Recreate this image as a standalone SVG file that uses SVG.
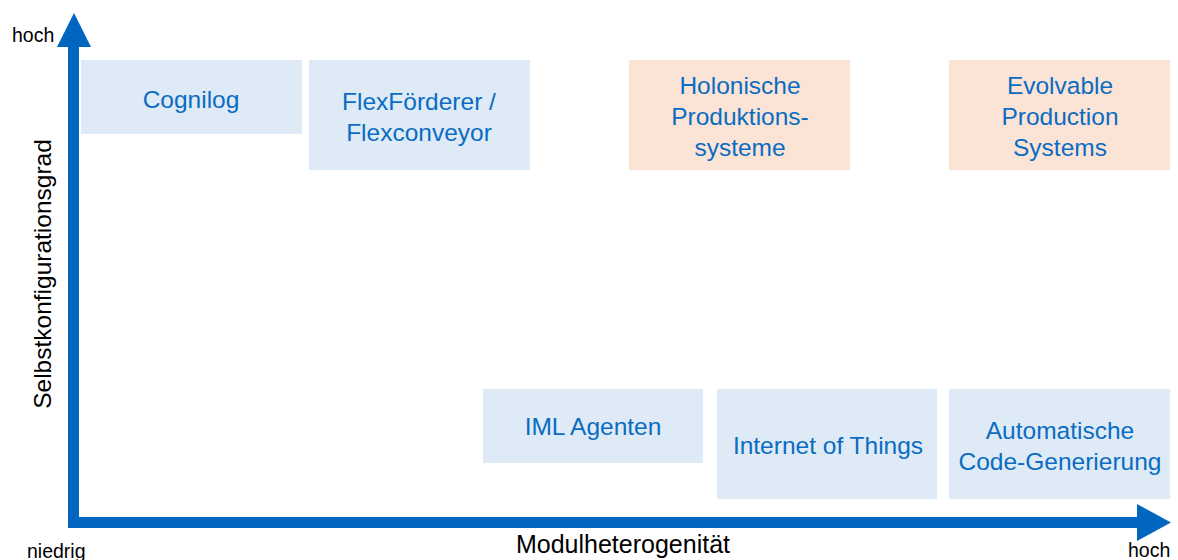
<svg xmlns="http://www.w3.org/2000/svg" width="1178" height="560" viewBox="0 0 1178 560">
<style>
.b{fill:#DEEAF6}
.p{fill:#FBE4D5}
.t{font-family:"Liberation Sans",Arial,sans-serif;font-size:24.5px;fill:#0A6CC2;text-anchor:middle}
.a{font-family:"Liberation Sans",Arial,sans-serif;fill:#000}
.ax{fill:#0066BF}
</style>
<rect width="1178" height="560" fill="#fff"/>
<g id="axes">
<rect class="ax" x="68" y="46" width="11" height="482"/>
<polygon class="ax" points="74,13 91,47 57,47"/>
<rect class="ax" x="68" y="517" width="1070" height="11"/>
<polygon class="ax" points="1171,522.5 1137,504 1137,541"/>
</g>
<g id="cognilog"><rect class="b" x="81" y="60" width="221" height="74"/><text class="t" x="191" y="108">Cognilog</text></g>
<g id="flexfoerderer"><rect class="b" x="309" y="60" width="221" height="110"/><text class="t" x="419" y="110">FlexFörderer /</text><text class="t" x="419" y="141">Flexconveyor</text></g>
<g id="holonische"><rect class="p" x="629" y="60" width="221" height="110"/><text class="t" x="740" y="94">Holonische</text><text class="t" x="740" y="125">Produktions-</text><text class="t" x="740" y="156">systeme</text></g>
<g id="evolvable"><rect class="p" x="949" y="60" width="221" height="110"/><text class="t" x="1060" y="94">Evolvable</text><text class="t" x="1060" y="125">Production</text><text class="t" x="1060" y="156">Systems</text></g>
<g id="iml"><rect class="b" x="483" y="389" width="220" height="74"/><text class="t" x="593" y="435">IML Agenten</text></g>
<g id="iot"><rect class="b" x="717" y="389" width="220" height="110"/><text class="t" x="828" y="454">Internet of Things</text></g>
<g id="codegen"><rect class="b" x="949" y="389" width="221" height="110"/><text class="t" x="1060" y="439">Automatische</text><text class="t" x="1060" y="470">Code-Generierung</text></g>
<g id="labels">
<text class="a" x="12" y="42" font-size="19.5">hoch</text>
<text class="a" x="27" y="558" font-size="19.5">niedrig</text>
<text class="a" x="1128" y="557" font-size="19.5">hoch</text>
<text class="a" x="623" y="553" font-size="25" text-anchor="middle">Modulheterogenität</text>
<text class="a" x="51" y="274" font-size="24.5" text-anchor="middle" transform="rotate(-90 51 274)">Selbstkonfigurationsgrad</text>
</g>
</svg>
